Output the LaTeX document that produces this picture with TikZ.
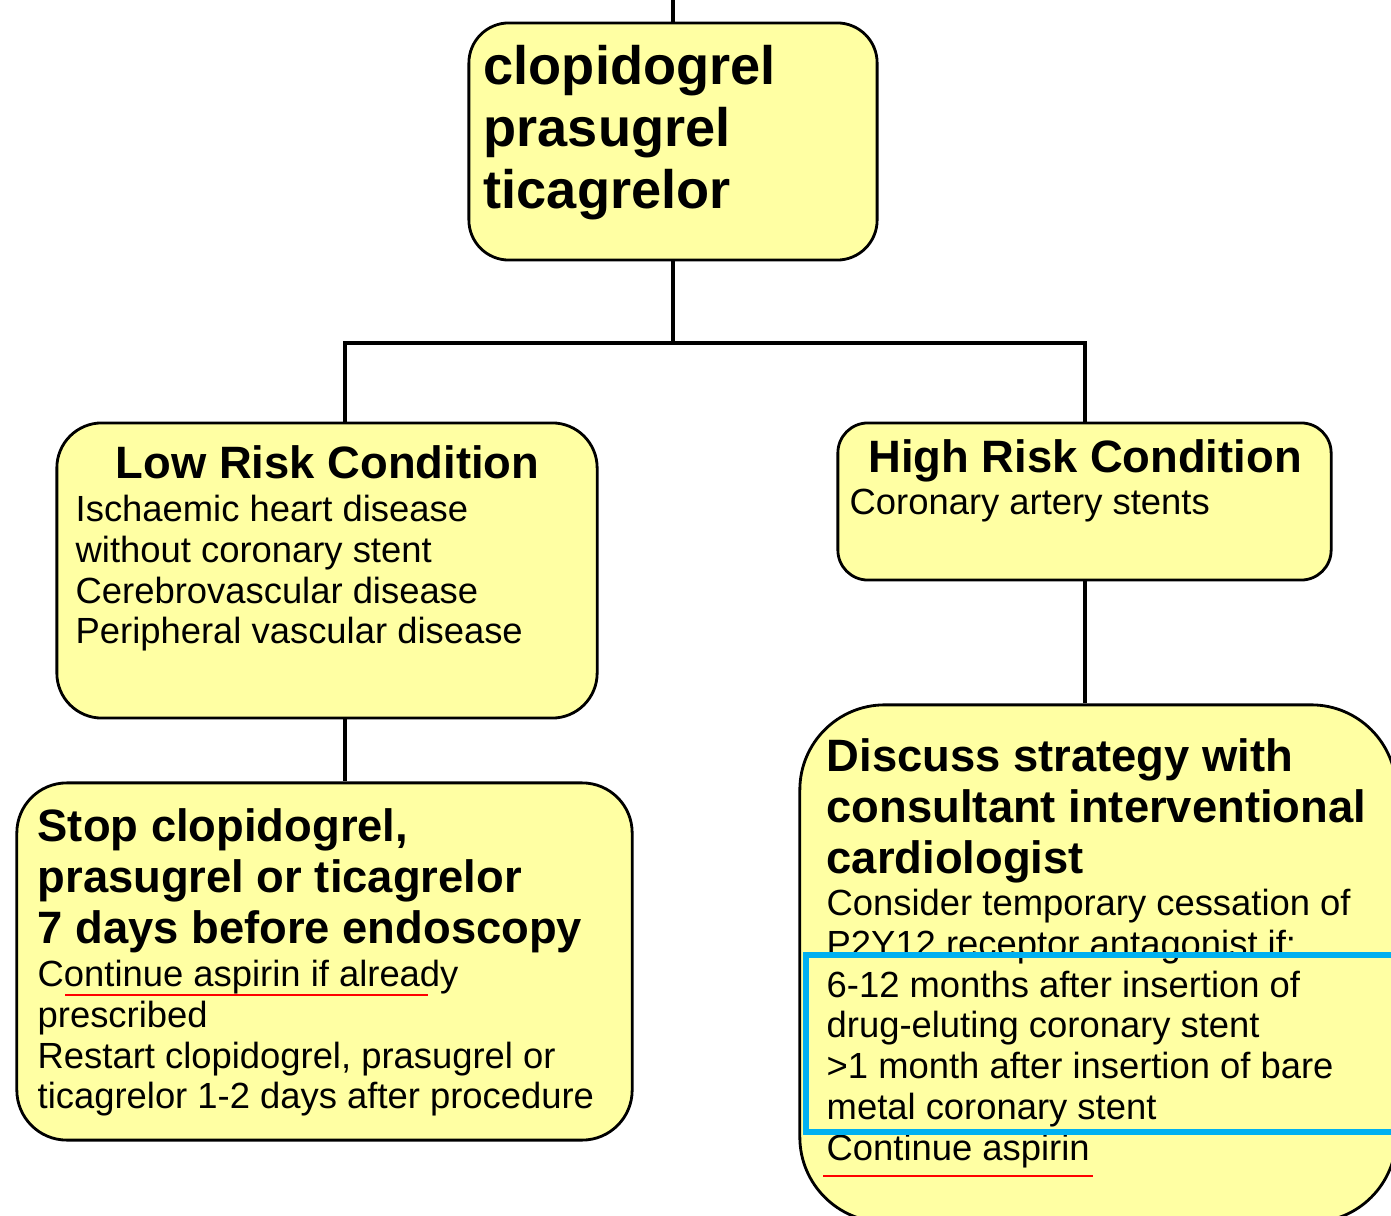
\documentclass[tikz,border=0pt]{standalone}
\usepackage{fontspec}
\setmainfont{Liberation Sans}
\usetikzlibrary{positioning}
\definecolor{boxfill}{RGB}{255,255,163}
\definecolor{hiblue}{RGB}{0,176,240}
\tikzset{
  box/.style={draw=black,line width=0.8pt,fill=boxfill,rounded corners=#1,inner sep=0pt},
  box/.default=0.4cm,
  link/.style={line width=1.2pt,black},
  bighead/.style={inner sep=0pt,align=left,font=\fontsize{15.4pt}{17.6pt}\selectfont\bfseries},
  headtext/.style={inner sep=0pt,align=left,font=\fontsize{12.9pt}{14.5pt}\selectfont\bfseries},
  bodytext/.style={inner sep=0pt,align=left,font=\fontsize{10.35pt}{11.65pt}\selectfont},
  mark line/.style={red,line width=0.6pt}
}
\begin{document}
\begin{tikzpicture}[x=0.01cm,y=-0.01cm]
    \useasboundingbox (0,0) rectangle (1391,1216);
    \clip (0,0) rectangle (1391,1216);
    % boxes
    \node[box=0.4cm,minimum width=4.08cm,minimum height=2.37cm] (topbox) at (673,141.5) {};
    \node[box=0.45cm,minimum width=5.40cm,minimum height=2.95cm] (lowbox) at (327,570.5) {};
    \node[box=0.3cm,minimum width=4.93cm,minimum height=1.57cm] (highbox) at (1084.5,501.5) {};
    \node[box=0.5cm,minimum width=6.15cm,minimum height=3.57cm] (stopbox) at (324.5,961.5) {};
    \node[box=0.85cm,minimum width=5.96cm,minimum height=5.17cm] (discbox) at (1098,963.5) {};
    % joins
    \coordinate (topend) at (673,0);
    \coordinate (bar) at (673,343);
    \coordinate (lowjoin) at (345,343);
    \coordinate (highjoin) at (1085,343);
    \draw[link] (topend) -- (topbox.north);
    \draw[link] (topbox.south) -- (bar);
    \draw[link] (lowjoin |- lowbox.north) -- (lowjoin) -- (highjoin) -- (highjoin |- highbox.north);
    \draw[link] (lowjoin |- lowbox.south) -- (lowjoin |- stopbox.north);
    \draw[link] (highjoin |- highbox.south) -- (highjoin |- discbox.north);
    % texts
    \node[bighead,anchor=north west] (toptxt) at (483,45) {clopidogrel\\prasugrel\\ticagrelor};
    \node[headtext,anchor=north] (lowhead) at (327.5,445) {Low Risk Condition};
    \node[bodytext,anchor=north west] (lowbody) at (75,494) {Ischaemic heart disease\\without coronary stent\\Cerebrovascular disease\\Peripheral vascular disease};
    \node[headtext,anchor=north] (highhead) at (1085,439) {High Risk Condition};
    \node[bodytext,anchor=north west] (highbody) at (849,488) {Coronary artery stents};
    \node[headtext,anchor=north west] (stophead) at (37,808) {Stop clopidogrel,\\prasugrel or ticagrelor\\7 days before endoscopy};
    \node[bodytext,anchor=north west] (stopbody) at (37,959) {Continue aspirin if already\\prescribed\\Restart clopidogrel, prasugrel or\\ticagrelor 1-2 days after procedure};
    \node[headtext,anchor=north west] (dischead) at (826,738) {Discuss strategy with\\consultant interventional\\cardiologist};
    \node[bodytext,anchor=north west] (discbody) at (826,888) {Consider temporary cessation of\\P2Y12 receptor antagonist if:\\6-12 months after insertion of\\drug-eluting coronary stent\\>1 month after insertion of bare\\metal coronary stent\\Continue aspirin};
    % marks
    \draw[hiblue,line width=1.5pt] (806,955) rectangle (1400,1132);
    \draw[mark line] (65,995) -- (428,995);
    \draw[mark line] (823,1176) -- (1093,1176);
\end{tikzpicture}
\end{document}
